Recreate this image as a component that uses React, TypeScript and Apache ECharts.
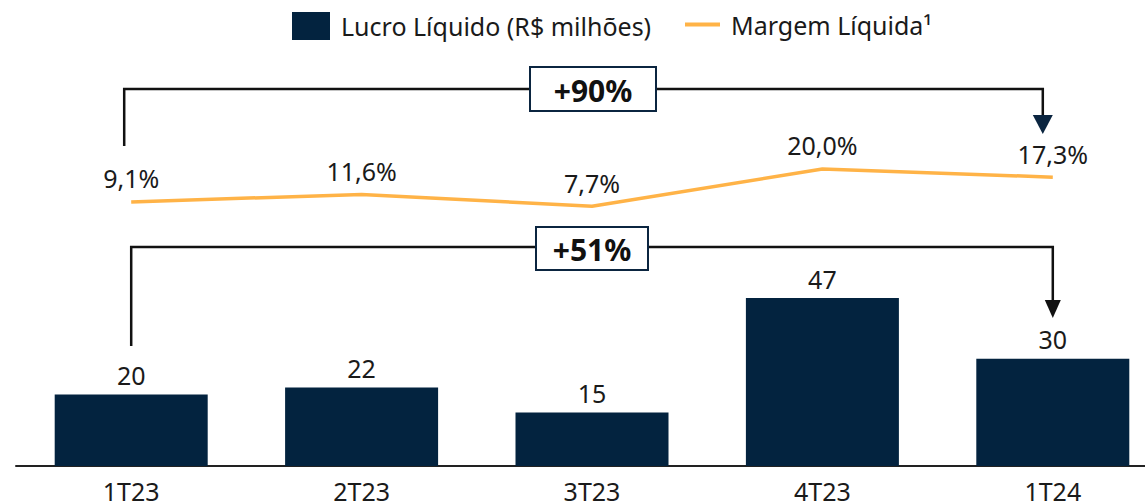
import React, { useEffect, useRef } from "react";
import * as echarts from "echarts";

const categories = ["1T23", "2T23", "3T23", "4T23", "1T24"];
const lucroLiquido = [20, 22, 15, 47, 30];
const margemLiquida = [9.1, 11.6, 7.7, 20.0, 17.3];
const barName = "Lucro Líquido (R$ milhões)";
const lineName = "Margem Líquida¹";
const growthMargem = "+90%";
const growthLucro = "+51%";

const FONT = "Noto Sans";
const NAVY = "#03233F";
const ORANGE = "#FFB347";
const TEXT = "#1a1a1a";
const FS = 25;

export default function App() {
  const ref = useRef<HTMLDivElement>(null);
  useEffect(() => {
    document.body.style.margin = "0";
    const chart = echarts.init(ref.current!, undefined, { renderer: "svg" });
    chart.setOption({
      animation: false,
      textStyle: { fontFamily: FONT },
      legend: [
        {
          data: [{ name: barName, icon: "rect" }],
          left: 287,
          top: 7,
          itemWidth: 38,
          itemHeight: 28,
          textStyle: { fontSize: FS, color: TEXT, fontFamily: FONT, padding: [0, 0, 0, 6] },
        },
        {
          data: [{ name: lineName, icon: "rect" }],
          left: 680,
          top: 7,
          itemWidth: 35,
          itemHeight: 4,
          textStyle: { fontSize: FS, color: TEXT, fontFamily: FONT, padding: [0, 0, 0, 6] },
        },
      ],
      grid: {
        left: 16,
        width: 1152,
        top: 0,
        bottom: 38,
        containLabel: false,
        outerBoundsMode: "none",
      },
      xAxis: {
        type: "category",
        data: categories,
        axisLine: { lineStyle: { color: "#222", width: 2 } },
        axisTick: { show: false },
        axisLabel: { fontSize: FS, color: TEXT, margin: 12, fontFamily: FONT },
      },
      yAxis: [
        { type: "value", min: 0, max: 130.4, show: false, splitLine: { show: false } },
        { type: "value", min: -78.1, max: 75.8, show: false, splitLine: { show: false } },
      ],
      series: [
        {
          name: barName,
          type: "bar",
          data: lucroLiquido,
          yAxisIndex: 0,
          barWidth: 153,
          itemStyle: { color: NAVY },
          label: {
            show: true,
            position: "top",
            distance: 7,
            fontSize: FS,
            color: TEXT,
            fontFamily: FONT,
          },
        },
        {
          name: lineName,
          type: "line",
          data: margemLiquida,
          yAxisIndex: 1,
          symbol: "circle",
          symbolSize: 0,
          color: ORANGE,
          lineStyle: { color: ORANGE, width: 3.5 },
          label: {
            show: true,
            position: "top",
            distance: 11,
            fontSize: FS,
            color: TEXT,
            fontFamily: FONT,
            formatter: (p: any) => p.value.toFixed(1).replace(".", ",") + "%",
          },
        },
      ],
    });

    const px = (i: number) => chart.convertToPixel({ xAxisIndex: 0 }, i) as number;
    const x0 = px(0);
    const xm = px(2);
    const x4 = px(4);

    chart.setOption({
      graphic: [
        {
          type: "polyline",
          z: 10,
          shape: { points: [[x0 - 7, 146], [x0 - 7, 89], [x4 - 10, 89], [x4 - 10, 118]] },
          style: { stroke: "#111", lineWidth: 2.5, fill: null },
        },
        {
          type: "polygon",
          z: 11,
          shape: { points: [[x4 - 20, 115], [x4, 115], [x4 - 10, 134]] },
          style: { fill: "#0B2540" },
        },
        {
          type: "rect",
          z: 12,
          shape: { x: xm - 62, y: 67, width: 126, height: 44 },
          style: { fill: "#fff", stroke: "#0B2540", lineWidth: 2 },
        },
        {
          type: "text",
          z: 13,
          x: xm + 1,
          y: 90,
          style: {
            text: growthMargem,
            align: "center",
            verticalAlign: "middle",
            font: `bold 30px "${FONT}"`,
            fill: "#111",
          },
        },
        {
          type: "polyline",
          z: 10,
          shape: { points: [[x0, 346], [x0, 247], [x4, 247], [x4, 302]] },
          style: { stroke: "#111", lineWidth: 2.5, fill: null },
        },
        {
          type: "polygon",
          z: 11,
          shape: { points: [[x4 - 8, 300], [x4 + 8, 300], [x4, 318]] },
          style: { fill: "#111" },
        },
        {
          type: "rect",
          z: 12,
          shape: { x: xm - 56, y: 227, width: 112, height: 43 },
          style: { fill: "#fff", stroke: "#0B2540", lineWidth: 2 },
        },
        {
          type: "text",
          z: 13,
          x: xm,
          y: 249.5,
          style: {
            text: growthLucro,
            align: "center",
            verticalAlign: "middle",
            font: `bold 30px "${FONT}"`,
            fill: "#111",
          },
        },
      ],
    });

    return () => chart.dispose();
  }, []);
  return <div ref={ref} style={{ width: 1145, height: 504 }} />;
}
